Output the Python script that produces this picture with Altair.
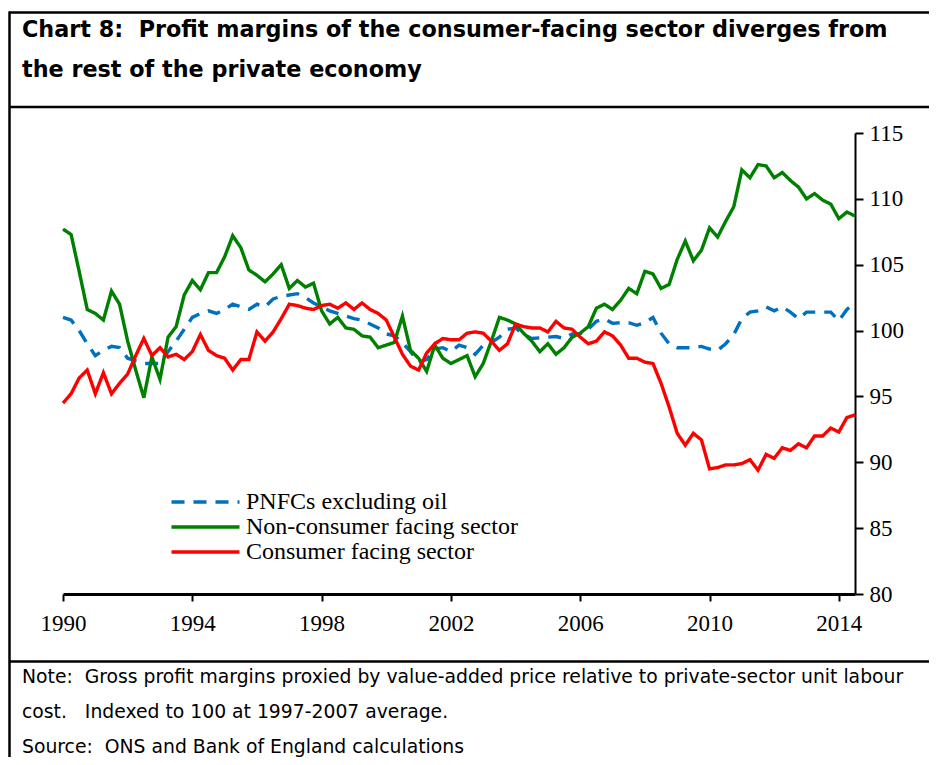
import altair as alt
import pandas as pd

# ---------------- data ----------------
series_names = ["PNFCs excluding oil", "Non-consumer facing sector", "Consumer facing sector"]
series_colors = ["#0070C0", "#008000", "#FF0000"]

start_year = 1990
n_quarters = 99  # 1990 Q1 .. 2014 Q3

pnfc = [101.0, 100.8, 100.0, 99.0, 98.1, 98.5, 98.8, 98.7, 97.9, 97.7,
        97.5, 97.5, 97.5, 98.4, 99.2, 100.1, 101.0, 101.3, 101.5, 101.3,
        101.6, 102.0, 101.8, 101.6, 102.0, 101.8, 102.4, 102.6, 102.7, 102.8,
        102.5, 102.1, 101.8, 101.5, 101.3, 101.1, 100.9, 100.8, 100.5, 100.2,
        99.75, 99.6, 99.1, 98.4, 97.6, 97.8, 98.6, 98.7, 98.4, 98.9,
        98.7, 98.2, 98.9, 99.1, 99.5, 100.1, 100.2, 99.7, 99.4, 99.45,
        99.5, 99.55, 99.4, 99.75, 99.75, 100.1, 100.7, 100.9, 100.55, 100.6,
        100.6, 100.4, 100.6, 101.0, 99.8, 99.0, 98.7, 98.7, 98.7, 98.8,
        98.6, 98.5, 99.0, 99.7, 100.9, 101.4, 101.5, 101.8, 101.5, 101.8,
        101.4, 100.9, 101.4, 101.4, 101.4, 101.4, 100.75, 101.6, 102.1]

non_consumer = [107.7, 107.3, 104.5, 101.6, 101.3, 100.8, 103.0, 102.0, 99.2, 97.0,
                94.9, 98.0, 96.3, 99.5, 100.3, 102.7, 103.8, 103.1, 104.4, 104.4,
                105.6, 107.2, 106.3, 104.6, 104.2, 103.7, 104.3, 105.0, 103.2, 103.8,
                103.3, 103.6, 101.5, 100.5, 101.0, 100.2, 100.1, 99.6, 99.5, 98.7,
                98.9, 99.1, 101.1, 98.5, 97.9, 96.9, 98.9, 97.9, 97.5, 97.8,
                98.1, 96.5, 97.5, 99.2, 101.0, 100.8, 100.5, 99.8, 99.2, 98.4,
                99.0, 98.2, 98.7, 99.5, 99.8, 100.3, 101.7, 102.0, 101.6, 102.3,
                103.2, 102.8, 104.5, 104.3, 103.2, 103.5, 105.4, 106.8, 105.3, 106.1,
                107.8, 107.1, 108.3, 109.4, 112.2, 111.6, 112.6, 112.5, 111.6, 112.0,
                111.4, 110.9, 110.0, 110.4, 109.9, 109.6, 108.5, 109.0, 108.7]

consumer = [94.5, 95.2, 96.4, 97.0, 95.2, 96.8, 95.2, 96.0, 96.7, 98.1,
            99.4, 98.1, 98.7, 98.0, 98.2, 97.8, 98.4, 99.7, 98.5, 98.1,
            97.9, 97.0, 97.8, 97.8, 99.9, 99.2, 99.9, 100.9, 102.0, 101.9,
            101.7, 101.6, 101.9, 102.0, 101.7, 102.1, 101.6, 102.1, 101.6, 101.3,
            100.8, 99.5, 98.2, 97.3, 97.0, 98.3, 99.0, 99.4, 99.3, 99.3,
            99.8, 99.9, 99.8, 99.2, 98.5, 99.0, 100.5, 100.3, 100.2, 100.2,
            99.9, 100.7, 100.2, 100.1, 99.5, 99.0, 99.2, 99.9, 99.6, 98.9,
            97.9, 97.9, 97.6, 97.5, 96.0, 94.2, 92.2, 91.3, 92.2, 91.7,
            89.5, 89.6, 89.8, 89.8, 89.9, 90.2, 89.4, 90.6, 90.3, 91.1,
            90.9, 91.4, 91.1, 92.0, 92.0, 92.6, 92.3, 93.4, 93.6]

x_tick_years = [1990, 1994, 1998, 2002, 2006, 2010, 2014]
y_ticks = [80, 85, 90, 95, 100, 105, 110, 115]

title_lines = ["Chart 8:\u00a0 Profit margins of the consumer-facing sector diverges from",
               "the rest of the private economy"]
note_lines = ["Note:\u00a0 Gross profit margins proxied by value-added price relative to private-sector unit labour",
              "cost.\u00a0\u00a0 Indexed to 100 at 1997-2007 average.",
              "Source:\u00a0 ONS and Bank of England calculations"]

# ---------------- build table ----------------
quarters = [start_year + i / 4 for i in range(n_quarters)]
rows = []
for name, vals in zip(series_names, [pnfc, non_consumer, consumer]):
    for t, v in zip(quarters, vals):
        rows.append({"t": t, "value": v, "series": name})
df = pd.DataFrame(rows)
one = pd.DataFrame({"k": [0]})

W, H = 792, 461
PAD = {"left": 55, "top": 125, "right": 74, "bottom": 163}

color_scale = alt.Scale(domain=series_names, range=series_colors)
dash_scale = alt.Scale(domain=series_names, range=[[13, 9], [1, 0], [1, 0]])
legend = alt.Legend(orient="none", legendX=105, legendY=357, title=None,
                    symbolType="M-1,0H7", symbolSize=289, symbolStrokeWidth=3.5,
                    labelFont="Liberation Serif", labelFontSize=24, labelColor="black",
                    labelOffset=54, rowPadding=1, labelLimit=400)

x_enc = alt.X("t:Q", scale=alt.Scale(domain=[1990, 2014.5], nice=False, zero=False),
              axis=alt.Axis(values=x_tick_years, format="d", title=None, grid=False,
                            tickSize=7, tickWidth=2, tickColor="black",
                            domainWidth=3, domainColor="black",
                            labelFont="Liberation Serif", labelFontSize=23,
                            labelColor="black", labelPadding=11,
                            labelFlush=False, labelOverlap=False))
y_enc = alt.Y("value:Q", scale=alt.Scale(domain=[80, 115], nice=False, zero=False),
              axis=alt.Axis(orient="right", values=y_ticks, title=None, grid=False,
                            tickSize=8, tickWidth=2, tickColor="black",
                            domainWidth=2, domainColor="black",
                            labelFont="Liberation Serif", labelFontSize=23,
                            labelColor="black", labelPadding=6,
                            labelFlush=False, labelOverlap=False))


def line_layer(name):
    return (alt.Chart(df)
            .transform_filter(alt.datum.series == name)
            .mark_line(strokeWidth=3.4, strokeJoin="miter")
            .encode(x=x_enc, y=y_enc,
                    color=alt.Color("series:N", scale=color_scale, legend=legend),
                    strokeDash=alt.StrokeDash("series:N", scale=dash_scale, legend=legend)))


lines = [line_layer(n) for n in series_names]


# frame rules (decoration)
def hrule(y, x0=-54, x1=866, w=2.5):
    return alt.Chart(one).mark_rule(color="black", strokeWidth=w).encode(
        x=alt.value(x0), x2=alt.value(x1), y=alt.value(y))


def vrule(x, y0, y1, w=2.5):
    return alt.Chart(one).mark_rule(color="black", strokeWidth=w).encode(
        x=alt.value(x), y=alt.value(y0), y2=alt.value(y1))


frames = [hrule(-120.5), hrule(-26), hrule(528.5), vrule(-53.5, -121.5, 624)]

title_text = alt.Chart(one).mark_text(
    align="left", baseline="alphabetic", font="DejaVu Sans", fontWeight="bold",
    fontSize=22.3, lineHeight=40, color="black").encode(
    x=alt.value(-41), y=alt.value(-96), text=alt.value(title_lines))

note_text = alt.Chart(one).mark_text(
    align="left", baseline="alphabetic", font="DejaVu Sans",
    fontSize=18.8, lineHeight=35, color="black").encode(
    x=alt.value(-41), y=alt.value(550), text=alt.value(note_lines))

chart = alt.layer(*frames, *lines, title_text, note_text).properties(
    width=W, height=H, padding=PAD,
    autosize=alt.AutoSizeParams(type="none"),
    background="white",
).configure_view(stroke=None)

chart.save("out.html", embed_options={"renderer": "svg", "actions": False})
